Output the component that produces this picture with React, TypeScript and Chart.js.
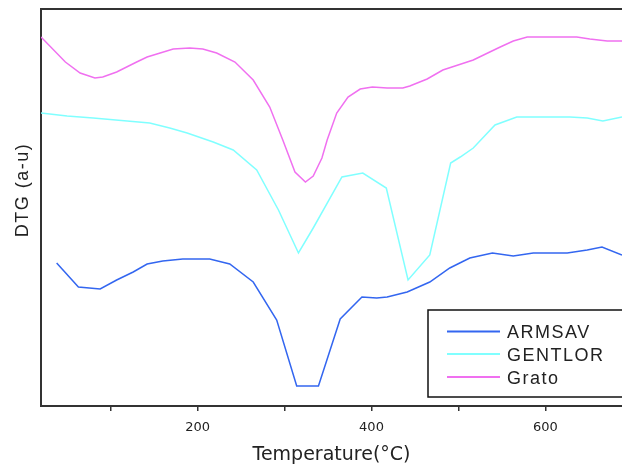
import React, { useEffect, useRef } from 'react';
import { Chart, registerables } from 'chart.js';

Chart.register(...registerables);

// ---- Data (DTG, arbitrary units) ----
const seriesNames = ['ARMSAV', 'GENTLOR', 'Grato'];
const seriesColors = ['#3366f0', '#80ffff', '#f070f0'];

const armsavTemp = [38, 63, 88, 107, 126, 142, 160, 183, 214, 237, 264, 291, 314, 339, 364, 389, 406, 418, 441, 467, 490, 513, 539, 563, 586, 625, 648, 665, 688];
const armsavDtg = [143, 119, 117, 126, 134, 142, 145, 147, 147, 142, 124, 86, 20, 20, 87, 109, 108, 109, 114, 124, 138, 148, 153, 150, 153, 153, 156, 159, 151];

const gentlorTemp = [20, 50, 80, 119, 145, 168, 188, 218, 241, 268, 293, 316, 333, 366, 390, 417, 442, 467, 491, 502, 517, 542, 567, 628, 648, 666, 688];
const gentlorDtg = [293, 290, 288, 285, 283, 278, 273, 264, 256, 236, 196, 153, 178, 229, 233, 218, 126, 151, 243, 249, 258, 281, 289, 289, 288, 285, 289];

const gratoTemp = [20, 48, 65, 82, 91, 107, 130, 142, 172, 191, 206, 222, 243, 264, 283, 298, 312, 324, 333, 343, 349, 360, 373, 387, 401, 418, 436, 444, 464, 482, 496, 517, 536, 548, 563, 579, 636, 651, 671, 688];
const gratoDtg = [369, 344, 333, 328, 329, 334, 344, 349, 357, 358, 357, 353, 344, 326, 299, 266, 234, 224, 230, 248, 266, 293, 309, 317, 319, 318, 318, 320, 327, 336, 340, 346, 354, 359, 365, 369, 369, 367, 365, 365];

const xTickValues = [100, 200, 300, 400, 500, 600];
const xTickLabels = ['', '200', '', '400', '', '600'];
const xMin = 20;
const xMax = 688;
const yMin = 0;
const yMax = 397;

const toPoints = (xs: number[], ys: number[]) => xs.map((x, i) => ({ x, y: ys[i] }));

const framePlugin = {
  id: 'frameAndLegend',
  afterDraw(chart: any) {
    const { ctx, chartArea } = chart;
    const { left, top, right, bottom } = chartArea;
    ctx.save();
    // top frame line
    ctx.strokeStyle = '#333';
    ctx.lineWidth = 2;
    ctx.beginPath();
    ctx.moveTo(left - 1, top);
    ctx.lineTo(right, top);
    ctx.stroke();

    // y axis title
    ctx.save();
    ctx.fillStyle = '#222';
    ctx.font = '18px "Liberation Sans"';
    (ctx as any).letterSpacing = '1.5px';
    ctx.translate(28, 190);
    ctx.rotate(-Math.PI / 2);
    ctx.textAlign = 'center';
    ctx.textBaseline = 'alphabetic';
    ctx.fillText('DTG (a-u)', 0, 0);
    ctx.restore();

    // legend box
    const boxLeft = left + 387;
    const boxTop = top + 301;
    const boxBottom = bottom - 9;
    ctx.strokeStyle = '#111';
    ctx.lineWidth = 1.5;
    ctx.strokeRect(boxLeft, boxTop, right + 5 - boxLeft, boxBottom - boxTop);
    const rows = [boxTop + 21.5, boxTop + 44, boxTop + 67];
    ctx.font = '18px "Liberation Sans"';
    (ctx as any).letterSpacing = '1.5px';
    ctx.textAlign = 'left';
    ctx.textBaseline = 'alphabetic';
    chart.data.datasets.forEach((ds: any, i: number) => {
      const y = rows[i];
      ctx.strokeStyle = ds.borderColor;
      ctx.lineWidth = 2;
      ctx.beginPath();
      ctx.moveTo(boxLeft + 19, y);
      ctx.lineTo(boxLeft + 72, y);
      ctx.stroke();
      ctx.fillStyle = '#222';
      ctx.fillText(ds.label, boxLeft + 79, y + 6.5);
    });
    ctx.restore();
  },
};

export default function App() {
  const canvasRef = useRef<HTMLCanvasElement | null>(null);

  useEffect(() => {
    if (!canvasRef.current) return;
    const seriesX = [armsavTemp, gentlorTemp, gratoTemp];
    const seriesY = [armsavDtg, gentlorDtg, gratoDtg];
    const chart = new Chart(canvasRef.current, {
      type: 'line',
      data: {
        datasets: seriesNames.map((name, i) => ({
          label: name,
          data: toPoints(seriesX[i], seriesY[i]),
          borderColor: seriesColors[i],
          backgroundColor: seriesColors[i],
          borderWidth: 1.5,
          pointRadius: 0,
          tension: 0,
          fill: false,
        })),
      },
      options: {
        animation: false,
        responsive: false,
        layout: { padding: { left: 0, top: 9, right: 0, bottom: 0 } },
        plugins: {
          legend: { display: false },
          tooltip: { enabled: false },
        },
        scales: {
          x: {
            type: 'linear',
            position: 'bottom',
            min: xMin,
            max: xMax,
            afterBuildTicks: (s: any) => {
              s.ticks = xTickValues.map((v) => ({ value: v }));
            },
            afterFit: (s: any) => {
              s.height = 62;
            },
            ticks: {
              autoSkip: false,
              maxRotation: 0,
              padding: 9,
              color: '#222',
              font: { family: 'DejaVu Sans', size: 13 },
              callback: (v: any) => {
                const idx = xTickValues.indexOf(Number(v));
                return idx >= 0 ? xTickLabels[idx] : '';
              },
            },
            grid: {
              display: true,
              drawOnChartArea: false,
              drawTicks: true,
              tickLength: 5,
              color: '#333',
              lineWidth: 1.5,
            },
            border: { display: true, color: '#333', width: 2 },
            title: {
              display: true,
              text: 'Temperature(°C)',
              color: '#222',
              font: { family: 'DejaVu Sans', size: 19 },
              padding: { top: 0, bottom: 2 },
            },
          },
          y: {
            type: 'linear',
            min: yMin,
            max: yMax,
            afterFit: (s: any) => {
              s.width = 41;
            },
            ticks: { display: false },
            grid: { display: false },
            border: { display: true, color: '#333', width: 2 },
          },
        },
      },
      plugins: [framePlugin],
    });
    return () => chart.destroy();
  }, []);

  return (
    <div style={{ position: 'absolute', left: 0, top: 0, width: 622, height: 468, background: '#fff' }}>
      <canvas ref={canvasRef} width={622} height={468} style={{ display: 'block' }} />
    </div>
  );
}
